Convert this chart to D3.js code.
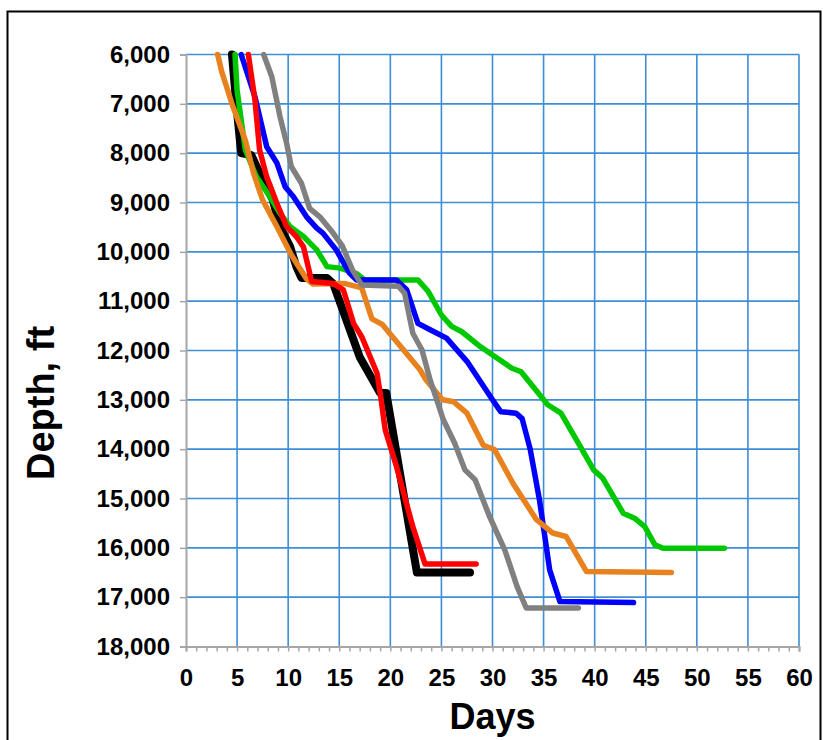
<!DOCTYPE html>
<html>
<head>
<meta charset="utf-8">
<script src="https://cdn.jsdelivr.net/npm/d3@7"></script>
<style>
  body { margin: 0; background: #fff; }
  svg { display: block; font-family: "Liberation Sans", Arial, sans-serif; }
</style>
</head>
<body>
<div id="chart"></div>
<script>
// [day, depth ft] per well
const blackWell = [[4.5,6000],[4.95,7060],[5.4,8000],[6.4,8040],[7.2,8400],[8.5,8950],[9.2,9490],[10.2,9900],[10.8,10300],[11.3,10530],[13.8,10530],[14.4,10640],[17,12130],[19,12860],[19.6,12860],[22.6,16500],[27.8,16500]];
const redWell = [[6.1,6000],[6.75,6920],[7.2,7930],[7.9,8480],[8.9,9020],[9.85,9490],[10.8,9690],[11.5,9900],[12.3,10600],[14.4,10640],[15.4,10770],[16.4,11450],[17.2,11720],[18.7,12460],[19.1,13000],[19.5,13610],[20.6,14350],[22.2,15570],[23.4,16330],[28.4,16330]];
const blueWell = [[5.4,6000],[6.75,6860],[7.9,7870],[8.9,8200],[9.7,8680],[10.5,8880],[11.8,9290],[12.8,9520],[13.4,9620],[14.7,9960],[16,10430],[16.7,10570],[20.6,10570],[21.6,10770],[22.7,11450],[23.9,11580],[25.5,11750],[27.5,12220],[30,13000],[30.8,13240],[32.3,13270],[32.9,13380],[33.7,14010],[34.6,15030],[35.6,16450],[36.6,17090],[43.8,17110]];
const greenWell = [[4.8,6000],[5.0,6720],[5.8,7930],[6.9,8480],[8.2,8880],[9.2,9220],[10.2,9490],[11.5,9690],[12.8,9960],[13.8,10300],[15.1,10330],[16.7,10440],[17.5,10570],[22.7,10570],[23.7,10800],[25,11280],[26,11510],[27,11620],[28.8,11920],[30,12090],[31.9,12360],[32.8,12430],[35.4,13100],[36.7,13270],[38.6,13950],[39.9,14420],[40.8,14590],[42.8,15300],[43.9,15400],[44.9,15570],[45.9,15940],[46.7,16010],[52.7,16010]];
const grayWell = [[7.6,6000],[8.4,6450],[9.2,7260],[9.85,7800],[10.3,8270],[11.3,8610],[12.1,9120],[13.1,9290],[14.4,9620],[15.3,9880],[16.3,10370],[17.2,10670],[20.8,10700],[21.4,10840],[22.2,11650],[23.1,11990],[23.9,12600],[24.3,12850],[25.2,13410],[26.3,13880],[27.3,14420],[28.3,14620],[29.7,15360],[31.2,16040],[32.4,16780],[33.3,17220],[38.4,17220]];
const orangeWell = [[3.1,6000],[3.5,6350],[4.6,7060],[5.8,7730],[6.6,8400],[7.5,8950],[8.9,9490],[10.3,10060],[11.8,10550],[12.4,10650],[15.5,10640],[17.2,10730],[18.2,11360],[19.2,11470],[22.9,12390],[23.5,12600],[25.1,13000],[26.2,13040],[27.5,13270],[29.1,13920],[30.2,14010],[32,14690],[34.3,15430],[35.9,15700],[37.2,15770],[39.2,16480],[47.5,16500]];

const depthTicks = d3.range(6000, 18001, 1000);
const dayTicks = d3.range(0, 61, 1);
const dayLabels = d3.range(0, 61, 5);

const wells = [
    { data: blackWell, color: "#000000", width: 8 },
    { data: greenWell, color: "#00c800", width: 5.5 },
    { data: blueWell, color: "#0000ff", width: 5.5 },
    { data: orangeWell, color: "#e8821e", width: 5.5 },
    { data: grayWell, color: "#808080", width: 5.5 },
    { data: redWell, color: "#ff0000", width: 5.5 }
];

const width = 823;
const height = 740;
const margin = { left: 186, right: 24, top: 54.5, bottom: 93.5 };

const svg = d3.select("#chart")
    .append("svg")
    .attr("width", width)
    .attr("height", height);

// outer frame
svg.append("rect")
    .attr("x", 7.5)
    .attr("y", 11.5)
    .attr("width", 813)
    .attr("height", 760)
    .attr("fill", "none")
    .attr("stroke", "#000")
    .attr("stroke-width", 2);

const x = d3.scaleLinear().domain([0, 60]).range([margin.left, width - margin.right]);
const y = d3.scaleLinear().domain([6000, 18000]).range([margin.top, height - margin.bottom]);

// grid
const grid = svg.append("g").attr("stroke", "#3d8ed6").attr("stroke-width", 1.6);
grid.selectAll("line.h")
    .data(depthTicks.filter(d => d < 18000))
    .enter().append("line")
    .attr("x1", x(0)).attr("x2", x(60))
    .attr("y1", d => y(d)).attr("y2", d => y(d));
grid.selectAll("line.v")
    .data(dayLabels.filter(d => d > 0))
    .enter().append("line")
    .attr("x1", d => x(d)).attr("x2", d => x(d))
    .attr("y1", y(6000)).attr("y2", y(18000));

// axes
const yAxis = svg.append("g")
    .attr("transform", `translate(${x(0)},0)`)
    .call(d3.axisLeft(y).tickValues(depthTicks).tickFormat(d3.format(",")).tickSize(6).tickPadding(10));

const xAxis = svg.append("g")
    .attr("transform", `translate(0,${y(18000)})`)
    .call(d3.axisBottom(x).tickValues(dayTicks).tickFormat(d => d % 5 === 0 ? d : "").tickSize(5).tickPadding(17));

[yAxis, xAxis].forEach(ax => {
    ax.select(".domain").attr("stroke", "#a6a6a6").attr("stroke-width", 2);
    ax.selectAll(".tick line").attr("stroke", "#a6a6a6").attr("stroke-width", 1.5);
    ax.selectAll("text")
        .attr("fill", "#000")
        .style("font-size", "24px")
        .style("font-weight", "bold")
        .style("font-family", "'Liberation Sans', Arial, sans-serif");
});

// well curves
const line = d3.line().x(d => x(d[0])).y(d => y(d[1]));

svg.append("g")
    .selectAll("path")
    .data(wells)
    .enter().append("path")
    .attr("d", d => line(d.data))
    .attr("fill", "none")
    .attr("stroke", d => d.color)
    .attr("stroke-width", d => d.width)
    .attr("stroke-linejoin", "round")
    .attr("stroke-linecap", "round");

// titles
svg.append("text")
    .attr("x", (x(0) + x(60)) / 2)
    .attr("y", 729)
    .attr("text-anchor", "middle")
    .style("font-size", "36px")
    .style("font-weight", "bold")
    .text("Days");

svg.append("text")
    .attr("transform", "translate(54,403) rotate(-90)")
    .attr("text-anchor", "middle")
    .style("font-size", "38px")
    .style("font-weight", "bold")
    .text("Depth, ft");
</script>
</body>
</html>
